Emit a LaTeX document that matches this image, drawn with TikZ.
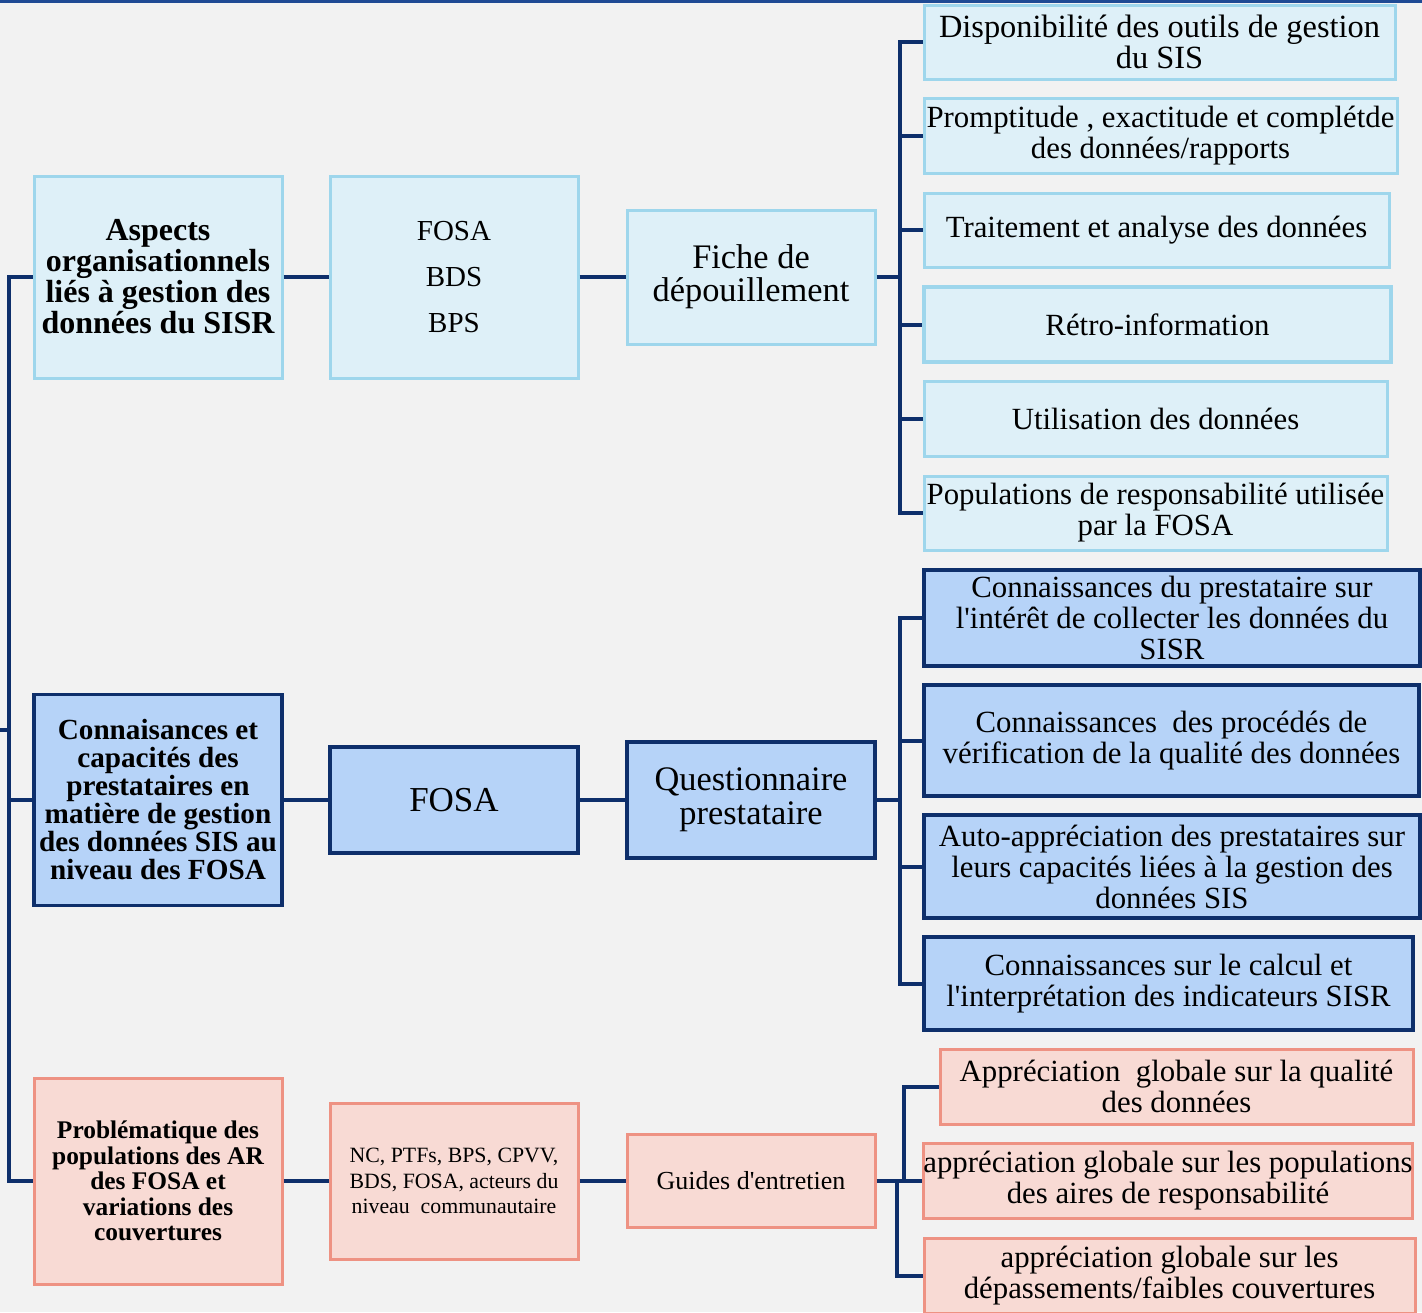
\documentclass[tikz,border=0pt]{standalone}
\usepackage{fontspec}
\setmainfont{Liberation Serif}
\usepackage{tikz}
\definecolor{navy}{HTML}{0E2F6B}
\definecolor{bgray}{HTML}{F2F2F2}
\definecolor{topline}{HTML}{1F4A94}
\definecolor{lbfill}{HTML}{DEF0F8}
\definecolor{lbline}{HTML}{9ED6EC}
\definecolor{bfill}{HTML}{B6D3F8}
\definecolor{sfill}{HTML}{F8DAD4}
\definecolor{sline}{HTML}{EE9283}

\tikzset{
    box/.style 2 args={inner sep=0pt, align=center, minimum width=#1*0.5pt, minimum height=#2*0.5pt},
    lbox/.style={fill=lbfill, draw=lbline, line width=1.5pt},
    bbox/.style={fill=bfill, draw=navy, line width=1.6pt},
    sbox/.style={fill=sfill, draw=sline, line width=1.5pt},
    link/.style={draw=navy, line width=2pt},
    leaf/.style={font=\fontsize{15.4}{15.5}\selectfont}
}

\begin{document}
\begin{tikzpicture}[x=0.5pt, y=-0.5pt]
        \useasboundingbox (0,0) rectangle (1422,1312);
        \fill[bgray] (0,0) rectangle (1422,1312);
        \fill[topline] (0,0) rectangle (1422,3);

        \node[lbox, box={248}{202}, font=\bfseries\fontsize{16}{15.5}\selectfont] (asp) at (158,277)
            {Aspects\\organisationnels\\liés à gestion des\\données du SISR};
        \node[lbox, box={248}{202}, font=\fontsize{14.5}{23}\selectfont] (niv1) at (454,277) {FOSA\\BDS\\BPS};
        \node[lbox, box={248}{134}, font=\fontsize{17.2}{16.5}\selectfont] (outil1) at (751,277) {Fiche de\\dépouillement};

        \node[lbox, leaf, box={471}{74}, font=\fontsize{16.2}{15.5}\selectfont] (l1) at (1159.5,42) {Disponibilité des outils de gestion\\du SIS};
        \node[lbox, leaf, box={473}{75}] (l2) at (1160.5,135.5) {Promptitude , exactitude et complétde\\des données/rapports};
        \node[lbox, leaf, box={465}{74}] (l3) at (1156.5,230) {Traitement et analyse des données};
        \node[lbox, leaf, box={467}{75}, line width=2pt] (l4) at (1157.5,324.5) {Rétro-information};
        \node[lbox, leaf, box={463}{75}] (l5) at (1155.5,418.5) {Utilisation des données};
        \node[lbox, leaf, box={463}{74}] (l6) at (1155.5,513) {Populations de responsabilité utilisée\\par la FOSA};

        \node[bbox, box={248}{211}, font=\bfseries\fontsize{14.6}{14}\selectfont] (conn) at (158,800)
            {Connaisances et\\capacités des\\prestataires en\\matière de gestion\\des données SIS au\\niveau des FOSA};
        \node[bbox, box={248}{106}, font=\fontsize{17.5}{17}\selectfont] (niv2) at (454,800) {FOSA};
        \node[bbox, box={248}{116}, font=\fontsize{17.2}{17}\selectfont] (outil2) at (751,800) {Questionnaire\\prestataire};

        \node[bbox, leaf, box={496}{96}] (k1) at (1172,618) {Connaissances du prestataire sur\\l\textquotesingle intérêt de collecter les données du\\SISR};
        \node[bbox, leaf, box={495}{111}] (k2) at (1171.5,740.5) {Connaissances\ \ des procédés de\\vérification de la qualité des données};
        \node[bbox, leaf, box={496}{103}] (k3) at (1172,866.5) {Auto-appréciation des prestataires sur\\leurs capacités liées à la gestion des\\données SIS};
        \node[bbox, leaf, box={489}{93}] (k4) at (1168.5,983.5) {Connaissances sur le calcul et\\l\textquotesingle interprétation des indicateurs SISR};

        \node[sbox, box={248}{206}, font=\bfseries\fontsize{12.7}{12.75}\selectfont] (prob) at (158,1181)
            {Problématique des\\populations des AR\\des FOSA et\\variations des\\couvertures};
        \node[sbox, box={248}{156}, font=\fontsize{10.9}{12.75}\selectfont] (niv3) at (454,1181)
            {NC, PTFs, BPS, CPVV,\\BDS, FOSA, acteurs du\\niveau\ \ communautaire};
        \node[sbox, box={248}{93}, font=\fontsize{13}{13}\selectfont] (outil3) at (751,1181) {Guides d\textquotesingle entretien};

        \node[sbox, leaf, box={473}{75}] (s1) at (1176.5,1086.5) {Appréciation\ \ globale sur la qualité\\des données};
        \node[sbox, leaf, box={488}{75}] (s2) at (1168,1181) {appréciation globale sur les populations\\des aires de responsabilité};
        \node[sbox, leaf, box={491}{75}] (s3) at (1169.5,1275.5) {appréciation globale sur les\\dépassements/faibles couvertures};

        \coordinate (lsp) at (9,730);
        \coordinate (ltick) at (0,730);
        \draw[link] (asp.west) -| (lsp) |- (prob.west);
        \draw[link] (conn.west) -- (conn.west -| lsp);
        \draw[link] (ltick) -- (lsp);

        \draw[link] (asp) -- (niv1) -- (outil1);
        \draw[link] (conn) -- (niv2) -- (outil2);
        \draw[link] (prob) -- (niv3) -- (outil3);

        \coordinate (r1) at (900,277);
        \draw[link] (outil1.east) -- (r1);
        \foreach \n in {l1,l2,l3,l4,l5,l6}
            \draw[link] (r1) |- (\n.west);

        \coordinate (r2) at (900,800);
        \draw[link] (outil2.east) -- (r2);
        \foreach \n in {k1,k2,k3,k4}
            \draw[link] (r2) |- (\n.west);

        \coordinate (r3a) at (904,1181);
        \coordinate (r3b) at (897,1181);
        \draw[link] (outil3.east) -- (s2.west);
        \draw[link] (r3a) |- (s1.west);
        \draw[link] (r3b) |- (s3.west);
\end{tikzpicture}
\end{document}
